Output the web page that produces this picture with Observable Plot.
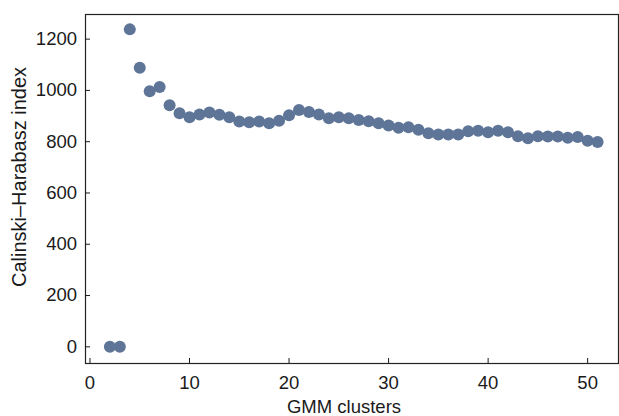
<!DOCTYPE html>
<html>
<head>
<meta charset="utf-8">
<script src="https://cdn.jsdelivr.net/npm/d3@7"></script>
<script src="https://cdn.jsdelivr.net/npm/@observablehq/plot@0.6"></script>
<style>
  html, body { margin: 0; padding: 0; background: #fff; }
  svg { display: block; }
</style>
</head>
<body>
<div id="chart"></div>
<script>
const clusters = [2,3,4,5,6,7,8,9,10,11,12,13,14,15,16,17,18,19,20,21,22,23,24,25,26,27,28,29,30,31,32,33,34,35,36,37,38,39,40,41,42,43,44,45,46,47,48,49,50,51];
const chIndex = [0,0,1238,1088,997,1013,942,911,895,906,914,905,895,879,876,879,872,882,903,924,916,906,891,895,891,885,880,872,863,854,856,847,833,828,828,828,841,843,837,843,837,821,813,821,820,820,815,818,804,799];
const xTicks = [0,10,20,30,40,50];
const yTicks = [0,200,400,600,800,1000,1200];
const xLabel = "GMM clusters";
const yLabel = "Calinski\u2013Harabasz index";

const data = clusters.map((c, i) => ({x: c, y: chIndex[i]}));
const FS = 18.5;

const chart = Plot.plot({
  width: 619,
  height: 416,
  marginLeft: 85,
  marginRight: 1,
  marginTop: 14,
  marginBottom: 53,
  style: {fontFamily: "'Liberation Sans', Arial, sans-serif", fontSize: FS + "px", color: "#1a1a1a"},
  x: {domain: [-0.45, 53.1], ticks: xTicks},
  y: {domain: [-65, 1296], ticks: yTicks},
  marks: [
    Plot.frame({stroke: "#222", strokeWidth: 1.2}),
    Plot.axisX({ticks: xTicks, tickSize: -5, tickPadding: 17.5, tickFormat: d => String(d), fontSize: FS, label: null}),
    Plot.axisY({ticks: yTicks, tickSize: -5, tickPadding: 13.5, tickFormat: d => String(d), fontSize: FS, label: null}),
    Plot.text([xLabel], {text: d => d, frameAnchor: "bottom", textAnchor: "middle", dy: 44, dx: -8, lineAnchor: "middle", fontSize: FS, fill: "#1a1a1a"}),
    Plot.text([yLabel], {text: d => d, frameAnchor: "left", textAnchor: "middle", rotate: -90, dx: -66, dy: -12, lineAnchor: "middle", fontSize: 20, fill: "#1a1a1a"}),
    Plot.dot(data, {x: "x", y: "y", r: 6, fill: "#5e7598", stroke: "none"})
  ]
});
document.getElementById("chart").appendChild(chart);
</script>
</body>
</html>
